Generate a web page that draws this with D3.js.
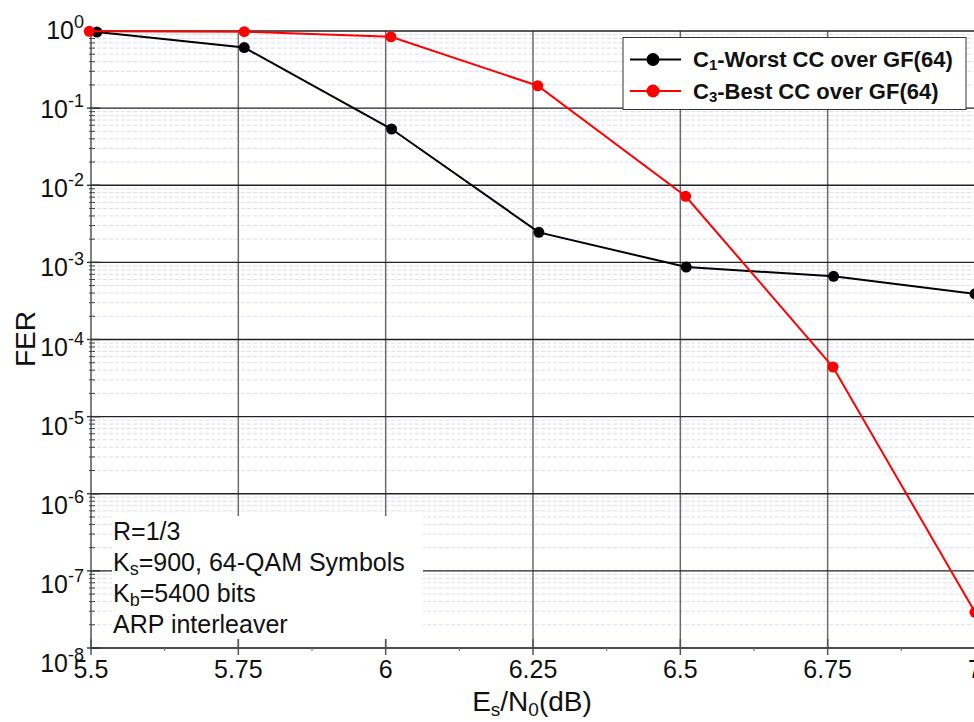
<!DOCTYPE html>
<html>
<head>
<meta charset="utf-8">
<script src="https://cdn.jsdelivr.net/npm/d3@7"></script>
<style>
  body { margin: 0; background: #fff; }
  svg { display: block; font-family: Arial, "Liberation Sans", sans-serif; }
</style>
</head>
<body>
<svg id="chart" width="974" height="722"></svg>
<script>
// tick values
const xTicks = [5.5, 5.75, 6, 6.25, 6.5, 6.75, 7];
const yExponents = [0, -1, -2, -3, -4, -5, -6, -7, -8];

// FER curves
const worstEsN0 = [5.51, 5.76, 6.01, 6.26, 6.51, 6.76, 7.0];
const worstFer = [0.97, 0.61, 0.0536, 0.00245, 0.00087, 0.00066, 0.00039];
const bestEsN0 = [5.497, 5.76, 6.009, 6.258, 6.509, 6.759, 7.0];
const bestFer = [0.99, 0.98, 0.84, 0.195, 0.0072, 0.000044, 2.9e-8];

// [main, subscript, rest]
const seriesNames = [["C", "1", "-Worst CC over GF(64)"], ["C", "3", "-Best CC over GF(64)"]];
const seriesColors = ["#000000", "#ff0000"];
const noteLines = [["R=1/3", "", ""], ["K", "s", "=900, 64-QAM Symbols"], ["K", "b", "=5400 bits"], ["ARP interleaver", "", ""]];

class FerChart {
  constructor(svg) {
    this.svg = svg;
    this.left = 91;
    this.top = 31;
    this.bottom = 648;
    this.right = 975;
    this.frameRight = 995; // plot continues past the window edge
    this.x = d3.scaleLinear().domain([5.5, 7]).range([this.left, this.right]);
    this.y = d3.scaleLog().domain([1e-8, 1]).range([this.bottom, this.top]);
    this.series = [
      { xs: worstEsN0, ys: worstFer, color: seriesColors[0], name: seriesNames[0] },
      { xs: bestEsN0, ys: bestFer, color: seriesColors[1], name: seriesNames[1] }
    ];
  }

  plot() {
    this.drawGrid();
    this.drawNote();
    this.drawAxes();
    this.drawSeries();
    this.drawLegend();
  }

  minorValues() {
    const minor = [];
    yExponents.filter(e => e < 0).forEach(e => {
      for (let m = 2; m <= 9; m++) minor.push(m * Math.pow(10, e));
    });
    return minor;
  }

  drawGrid() {
    const g = this.svg.append("g");
    g.selectAll(".minor")
      .data(this.minorValues())
      .enter()
      .append("line")
      .attr("x1", this.left).attr("x2", this.frameRight)
      .attr("y1", d => this.y(d)).attr("y2", d => this.y(d))
      .attr("stroke", "#dcdcf2")
      .attr("stroke-width", 1)
      .attr("stroke-dasharray", "4,2");

    g.selectAll(".vgrid")
      .data(xTicks.slice(1))
      .enter()
      .append("line")
      .attr("x1", d => this.x(d)).attr("x2", d => this.x(d))
      .attr("y1", this.top).attr("y2", this.bottom)
      .attr("stroke", "#6a6a6a")
      .attr("stroke-width", 1.5);

    g.selectAll(".hgrid")
      .data(yExponents.slice(0, -1))
      .enter()
      .append("line")
      .attr("x1", this.left).attr("x2", this.frameRight)
      .attr("y1", d => this.y(Math.pow(10, d))).attr("y2", d => this.y(Math.pow(10, d)))
      .attr("stroke", "#222")
      .attr("stroke-width", 1.4);
  }

  drawNote() {
    this.svg.append("rect")
      .attr("x", 112).attr("y", 516)
      .attr("width", 311).attr("height", 123)
      .attr("fill", "#fff");
    const t = this.svg.append("g").attr("font-size", 25).attr("fill", "#111");
    noteLines.forEach((parts, i) => {
      const txt = t.append("text").attr("x", 113).attr("y", 540 + i * 31);
      txt.append("tspan").text(parts[0]);
      if (parts[1]) {
        txt.append("tspan").attr("font-size", 18).attr("dy", 4).text(parts[1]);
        txt.append("tspan").attr("dy", -4).text(parts[2]);
      }
    });
  }

  drawAxes() {
    const g = this.svg.append("g");
    // frame
    g.append("line")
      .attr("x1", this.left).attr("x2", this.left)
      .attr("y1", this.top).attr("y2", this.bottom)
      .attr("stroke", "#555").attr("stroke-width", 1.5);
    g.append("line")
      .attr("x1", this.left).attr("x2", this.frameRight)
      .attr("y1", this.bottom).attr("y2", this.bottom)
      .attr("stroke", "#111").attr("stroke-width", 1.5);

    // x ticks
    g.selectAll(".xtick")
      .data(xTicks)
      .enter()
      .append("line")
      .attr("x1", d => this.x(d)).attr("x2", d => this.x(d))
      .attr("y1", this.bottom - 9).attr("y2", this.bottom + 7)
      .attr("stroke", "#555").attr("stroke-width", 1.5);
    g.selectAll(".xminor")
      .data(d3.range(5.625, 7, 0.25))
      .enter()
      .append("line")
      .attr("x1", d => this.x(d)).attr("x2", d => this.x(d))
      .attr("y1", this.bottom).attr("y2", this.bottom + 3)
      .attr("stroke", "#777").attr("stroke-width", 1.2);
    g.selectAll(".xlabel")
      .data(xTicks)
      .enter()
      .append("text")
      .attr("x", d => this.x(d))
      .attr("y", 678)
      .attr("text-anchor", "middle")
      .attr("font-size", 25)
      .attr("fill", "#111")
      .text(d => d);

    // y ticks
    g.selectAll(".yminor")
      .data(this.minorValues())
      .enter()
      .append("line")
      .attr("x1", this.left - 2).attr("x2", this.left + 4)
      .attr("y1", d => this.y(d)).attr("y2", d => this.y(d))
      .attr("stroke", "#444").attr("stroke-width", 1);
    g.selectAll(".ytick")
      .data(yExponents)
      .enter()
      .append("line")
      .attr("x1", this.left - 4).attr("x2", this.left + 9)
      .attr("y1", d => this.y(Math.pow(10, d))).attr("y2", d => this.y(Math.pow(10, d)))
      .attr("stroke", "#333").attr("stroke-width", 1.4);
    const labels = g.selectAll(".ylabel")
      .data(yExponents)
      .enter()
      .append("text")
      .attr("x", 84)
      .attr("y", d => this.y(Math.pow(10, d)) + 8 - 2 * d)
      .attr("text-anchor", "end")
      .attr("font-size", 25)
      .attr("fill", "#111");
    labels.append("tspan").text("10");
    labels.append("tspan").attr("font-size", 18).attr("dy", -11).text(d => d);

    // titles
    const xt = this.svg.append("text")
      .attr("x", 532).attr("y", 711)
      .attr("text-anchor", "middle")
      .attr("font-size", 28)
      .attr("fill", "#111");
    xt.append("tspan").text("E");
    xt.append("tspan").attr("font-size", 19).attr("dy", 5).text("s");
    xt.append("tspan").attr("dy", -5).text("/N");
    xt.append("tspan").attr("font-size", 19).attr("dy", 5).text("0");
    xt.append("tspan").attr("dy", -5).text("(dB)");

    this.svg.append("text")
      .attr("transform", "translate(35,339) rotate(-90)")
      .attr("text-anchor", "middle")
      .attr("font-size", 28)
      .attr("fill", "#111")
      .text("FER");
  }

  drawSeries() {
    const line = d3.line().x(d => this.x(d[0])).y(d => this.y(d[1]));
    this.series.forEach(s => {
      const pts = s.xs.map((x, i) => [x, s.ys[i]]);
      this.svg.append("path")
        .attr("d", line(pts))
        .attr("fill", "none")
        .attr("stroke", s.color)
        .attr("stroke-width", 2);
      this.svg.selectAll(null)
        .data(pts)
        .enter()
        .append("circle")
        .attr("cx", d => this.x(d[0]))
        .attr("cy", d => this.y(d[1]))
        .attr("r", 5.5)
        .attr("fill", s.color);
    });
  }

  drawLegend() {
    const g = this.svg.append("g");
    g.append("rect")
      .attr("x", 623).attr("y", 37.5)
      .attr("width", 343).attr("height", 72)
      .attr("fill", "#fff")
      .attr("stroke", "#333")
      .attr("stroke-width", 1);
    this.series.forEach((s, i) => {
      const cy = 59.5 + i * 31.5;
      g.append("line")
        .attr("x1", 630).attr("x2", 681)
        .attr("y1", cy).attr("y2", cy)
        .attr("stroke", s.color).attr("stroke-width", 2);
      g.append("circle")
        .attr("cx", 653).attr("cy", cy).attr("r", 6.5)
        .attr("fill", s.color);
      const t = g.append("text")
        .attr("x", 693).attr("y", cy + 7.5)
        .attr("font-size", 22)
        .attr("font-weight", "bold")
        .attr("fill", "#111");
      t.append("tspan").text(s.name[0]);
      t.append("tspan").attr("font-size", 15).attr("dy", 3).text(s.name[1]);
      t.append("tspan").attr("dy", -3).text(s.name[2]);
    });
  }
}

const chart = new FerChart(d3.select("#chart"));
chart.plot();
</script>
</body>
</html>
